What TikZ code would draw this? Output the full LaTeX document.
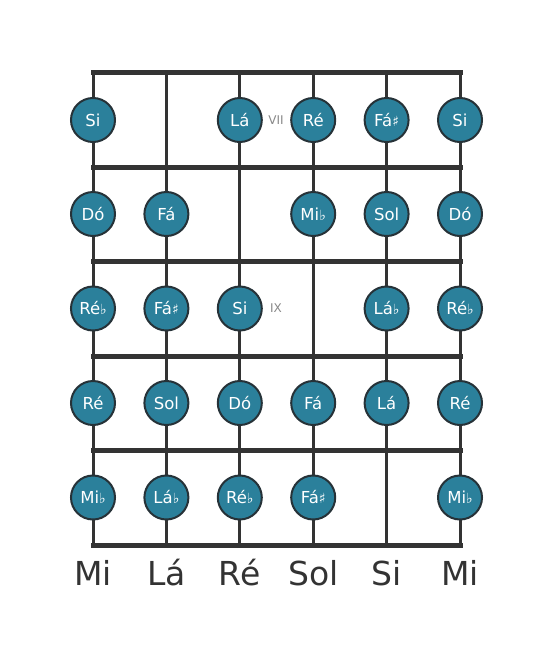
\documentclass[tikz,border=0pt]{standalone}
\usepackage{fontspec}
\setmainfont{DejaVu Sans}
\begin{document}
\begin{tikzpicture}[x=1pt,y=-1pt,
  fretline/.style={line width=5pt,color=fretgray},
  stringline/.style={line width=3pt,color=fretgray},
  note/.style={circle,draw=notebord,line width=2pt,fill=notefill,minimum size=44pt,inner sep=0pt,text=white,font=\fontsize{16.5}{16.5}\selectfont},
  fretnum/.style={text=numgray,font=\fontsize{12}{12}\selectfont},
  strname/.style={text=fretgray,font=\fontsize{33}{33}\selectfont}]
\definecolor{fretgray}{HTML}{333333}
\definecolor{notebord}{HTML}{263238}
\definecolor{notefill}{HTML}{2B809B}
\definecolor{numgray}{HTML}{888888}
\newcommand{\fl}{{\fontsize{14}{14}\selectfont ♭}}
\newcommand{\sh}{{\fontsize{14}{14}\selectfont ♯}}
\useasboundingbox (0,0) rectangle (553,656);
% string coordinates
\foreach \i/\x in {1/93,2/166.4,3/239.8,4/313.2,5/386.6,6/460}{
  \coordinate (t\i) at (\x,72);
  \coordinate (b\i) at (\x,545);
  \draw[stringline] (t\i) -- (b\i);
}
\foreach \j/\y in {0/72,1/167,2/261.5,3/356,4/450.5,5/545}{
  \coordinate (fl\j) at (93,\y);
  \coordinate (fr\j) at (460,\y);
  \draw[fretline,line cap=rect] (fl\j) -- (fr\j);
}
% row 1
\node[note] (n11) at (93,120) {Si};
\node[note] (n13) at (239.8,120) {Lá};
\node[note] (n14) at (313.2,120) {Ré};
\node[note] (n15) at (386.6,120) {Fá\sh};
\node[note] (n16) at (460,120) {Si};
\node[fretnum] (f7) at (276,120) {VII};
% row 2
\node[note] (n21) at (93,214) {Dó};
\node[note] (n22) at (166.4,214) {Fá};
\node[note] (n24) at (313.2,214) {Mi\fl};
\node[note] (n25) at (386.6,214) {Sol};
\node[note] (n26) at (460,214) {Dó};
% row 3
\node[note] (n31) at (93,308.5) {Ré\fl};
\node[note] (n32) at (166.4,308.5) {Fá\sh};
\node[note] (n33) at (239.8,308.5) {Si};
\node[note] (n35) at (386.6,308.5) {Lá\fl};
\node[note] (n36) at (460,308.5) {Ré\fl};
\node[fretnum] (f9) at (276,308.5) {IX};
% row 4
\node[note] (n41) at (93,403) {Ré};
\node[note] (n42) at (166.4,403) {Sol};
\node[note] (n43) at (239.8,403) {Dó};
\node[note] (n44) at (313.2,403) {Fá};
\node[note] (n45) at (386.6,403) {Lá};
\node[note] (n46) at (460,403) {Ré};
% row 5
\node[note] (n51) at (93,497.5) {Mi\fl};
\node[note] (n52) at (166.4,497.5) {Lá\fl};
\node[note] (n53) at (239.8,497.5) {Ré\fl};
\node[note] (n54) at (313.2,497.5) {Fá\sh};
\node[note] (n56) at (460,497.5) {Mi\fl};
% string names
\node[strname] (s1) at (93,573) {Mi};
\node[strname] (s2) at (166.4,573) {Lá};
\node[strname] (s3) at (239.8,573) {Ré};
\node[strname] (s4) at (313.2,573) {Sol};
\node[strname] (s5) at (386.6,573) {Si};
\node[strname] (s6) at (460,573) {Mi};
\end{tikzpicture}
\end{document}
